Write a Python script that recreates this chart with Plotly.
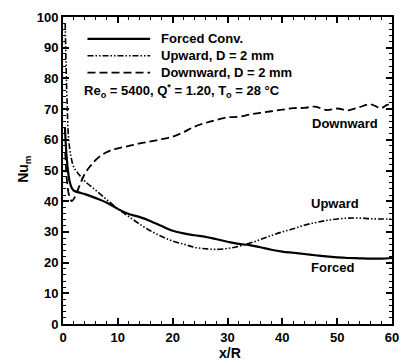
import plotly.graph_objects as go

# ---- data ----
forced_x = [0.35, 0.6, 0.9, 1.2, 1.6, 2, 3, 4, 6, 8, 10, 11, 12, 14, 16, 18, 20, 22, 24, 26, 28, 30, 32, 34, 36, 38, 40, 42, 44, 46, 48, 50, 52, 54, 56, 58, 60]
forced_y = [64, 56, 50, 46.5, 44.3, 43.4, 42.8, 42.3, 41, 39.5, 37.5, 36.6, 35.8, 34.8, 33.5, 31.9, 30.4, 29.5, 28.9, 28.4, 27.6, 26.8, 26.1, 25.7, 25, 24.2, 23.6, 23.2, 22.8, 22.4, 22, 21.7, 21.5, 21.4, 21.3, 21.3, 21.5]

up_x = [0.4, 0.55, 0.75, 1.0, 1.4, 2, 3, 4, 6, 8, 10, 11, 12, 14, 16, 18, 20, 22, 24, 26, 28, 30, 32, 34, 36, 38, 40, 42, 44, 46, 48, 50, 52, 54, 56, 58, 60]
up_y = [98, 85, 72, 61, 55, 51, 48.5, 46.5, 43.5, 40.5, 37.5, 36.2, 35, 32.5, 30.3, 28.5, 27, 26, 25, 24.5, 24.3, 24.6, 25.3, 26.3, 27.5, 28.8, 30, 31, 32.2, 33, 33.7, 34.2, 34.5, 34.5, 34.3, 34.2, 34.2]

down_x = [0.4, 0.7, 1.1, 1.6, 2.2, 3, 4, 5, 6, 7, 8, 9, 10, 12, 14, 16, 18, 20, 22, 24, 26, 28, 30, 32, 34, 36, 38, 40, 42, 44, 46, 48, 50, 52, 54, 56, 58, 59, 60]
down_y = [56, 47, 42, 40, 41.5, 45, 49, 51.5, 53.5, 55, 56, 56.8, 57.2, 58, 58.8, 59.5, 60.2, 61, 62.5, 64.3, 65.5, 66.5, 67.3, 67.5, 68.2, 68.8, 69.3, 69.8, 70.3, 70.4, 70.8, 69.7, 70.2, 69.6, 70.6, 71.6, 70.3, 71.3, 71.8]

x_ticks = [0, 10, 20, 30, 40, 50, 60]
y_ticks = [0, 10, 20, 30, 40, 50, 60, 70, 80, 90, 100]

FONT = "Arial, Liberation Sans, sans-serif"

UP_DASH = "6px,2px,1.5px,2px,1.5px,2px"
DOWN_DASH = "8px,4px"

fig = go.Figure()
fig.add_trace(go.Scatter(x=forced_x, y=forced_y, mode="lines", line=dict(color="black", width=2.2, shape="spline"), name="Forced Conv."))
fig.add_trace(go.Scatter(x=up_x, y=up_y, mode="lines", line=dict(color="black", width=1.6, dash=UP_DASH, shape="spline"), name="Upward, D = 2 mm"))
fig.add_trace(go.Scatter(x=down_x, y=down_y, mode="lines", line=dict(color="black", width=1.8, dash=DOWN_DASH, shape="spline"), name="Downward, D = 2 mm"))

L, R, T, B = 63, 10, 15, 36
W, H = 409, 360
pw, ph = W - L - R, H - T - B

def px(x):
    return (x - L) / pw

def py(y):
    return (H - B - y) / ph

BOLD = dict(family=FONT, size=13, color="black", weight="bold")

shapes = []
annotations = []
legend_rows = [(37, "Forced Conv.", dict(color="black", width=2.2)),
               (54, "Upward, D = 2 mm", dict(color="black", width=1.6, dash=UP_DASH)),
               (71, "Downward, D = 2 mm", dict(color="black", width=1.8, dash=DOWN_DASH))]
for yy, txt, ln in legend_rows:
    shapes.append(dict(type="line", xref="paper", yref="paper", x0=px(88), x1=px(152), y0=py(yy), y1=py(yy), line=ln))
    annotations.append(dict(xref="paper", yref="paper", x=px(161), y=py(yy), text=txt, showarrow=False,
                            xanchor="left", yanchor="middle", font=BOLD))

annotations.append(dict(xref="paper", yref="paper", x=px(82), y=py(89),
                        text="Re<sub>o</sub> = 5400, Q<sup>*</sup> = 1.20, T<sub>o</sub> = 28 °C",
                        showarrow=False, xanchor="left", yanchor="middle", font=BOLD))

for lx, ly, txt in [(51.4, 65.4, "Downward"), (49.6, 39.2, "Upward"), (49.1, 18.4, "Forced")]:
    annotations.append(dict(x=lx, y=ly, xref="x", yref="y", text=txt, showarrow=False, font=BOLD))

annotations.append(dict(xref="paper", yref="paper", x=px(23), y=py(168), text="Nu<sub>m</sub>", textangle=-90,
                        showarrow=False, xanchor="center", yanchor="middle",
                        font=dict(family=FONT, size=14, color="black", weight="bold")))
annotations.append(dict(xref="paper", yref="paper", x=px(234), y=py(353), text="x/R",
                        showarrow=False, xanchor="center", yanchor="middle",
                        font=dict(family=FONT, size=14, color="black", weight="bold")))

axis_common = dict(showgrid=False, zeroline=False, showline=True, linecolor="black", linewidth=2, mirror="ticks",
                   ticks="inside", ticklen=6, tickwidth=1.5, tickcolor="black",
                   tickfont=dict(family=FONT, size=13, color="black", weight="bold"),
                   minor=dict(ticks="inside", ticklen=3, tickwidth=1, tickcolor="black", dtick=2))

fig.update_layout(
    width=W, height=H, margin=dict(l=L, r=R, t=T, b=B),
    paper_bgcolor="white", plot_bgcolor="white", showlegend=False,
    xaxis=dict(range=[0, 60], tickvals=x_ticks, **axis_common),
    yaxis=dict(range=[0, 100], tickvals=y_ticks, **axis_common),
    shapes=shapes, annotations=annotations,
)

fig.write_html("out.html")
